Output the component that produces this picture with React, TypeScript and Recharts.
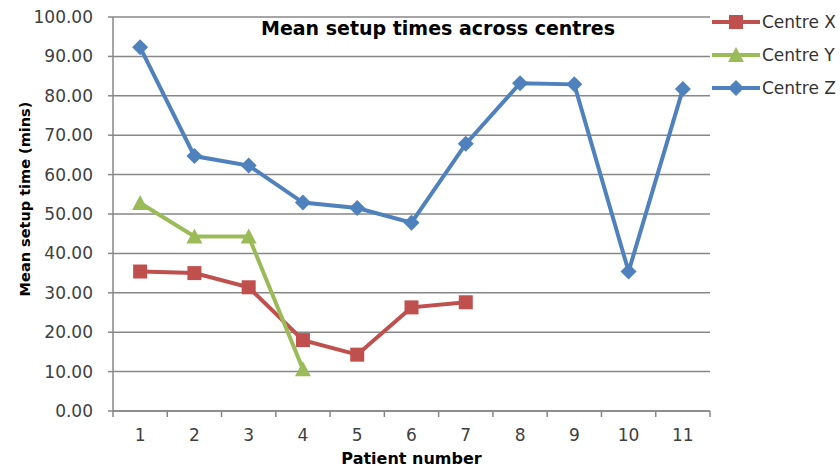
import React from 'react';
import { LineChart, Line, XAxis, YAxis, CartesianGrid } from 'recharts';

const patients = [1, 2, 3, 4, 5, 6, 7, 8, 9, 10, 11];
const centreX = [35.4, 35.0, 31.4, 18.0, 14.3, 26.3, 27.6, null, null, null, null];
const centreY = [52.8, 44.3, 44.3, 10.6, null, null, null, null, null, null, null];
const centreZ = [92.3, 64.7, 62.3, 52.9, 51.5, 47.8, 67.8, 83.2, 82.9, 35.4, 81.7];
const yTicks = [0, 10, 20, 30, 40, 50, 60, 70, 80, 90, 100];

const RED = '#C0504D';
const GREEN = '#9BBB59';
const BLUE = '#4F81BD';
const GRID = '#878787';
const FONT = '"DejaVu Sans", sans-serif';

const data = patients.map((p, i) => ({
  patient: p,
  x: centreX[i],
  y: centreY[i],
  z: centreZ[i],
}));

// boundaries between categories, for the little tick marks under the axis
const boundaries = [...patients.map((p) => p - 0.5), patients[patients.length - 1] + 0.5];

type Shape = 'square' | 'triangle' | 'diamond';

const Marker = ({ cx, cy, shape, color }: { cx: number; cy: number; shape: Shape; color: string }) => {
  if (shape === 'square') {
    return <rect x={cx - 7} y={cy - 7} width={14} height={14} fill={color} />;
  }
  if (shape === 'triangle') {
    return <polygon points={`${cx},${cy - 8} ${cx + 8},${cy + 7} ${cx - 8},${cy + 7}`} fill={color} />;
  }
  return <polygon points={`${cx},${cy - 8} ${cx + 8},${cy} ${cx},${cy + 8} ${cx - 8},${cy}`} fill={color} />;
};

const makeDot = (shape: Shape, color: string) => (props: any) => {
  const { cx, cy, value, index } = props;
  if (value === null || value === undefined || cx == null || cy == null) {
    return <g key={`e-${shape}-${index}`} />;
  }
  return <Marker key={`${shape}-${index}`} cx={cx} cy={cy} shape={shape} color={color} />;
};

const series = [
  { key: 'x', name: 'Centre X', color: RED, shape: 'square' as Shape },
  { key: 'y', name: 'Centre Y', color: GREEN, shape: 'triangle' as Shape },
  { key: 'z', name: 'Centre Z', color: BLUE, shape: 'diamond' as Shape },
];

const YLabel = ({ viewBox }: any) => {
  const cy = viewBox.y + viewBox.height / 2 - 15;
  const cx = 25;
  return (
    <text
      x={cx}
      y={cy}
      transform={`rotate(-90, ${cx}, ${cy})`}
      textAnchor="middle"
      dominantBaseline="central"
      fontFamily={FONT}
      fontWeight="bold"
      fontSize={14.5}
      fill="#000"
    >
      Mean setup time (mins)
    </text>
  );
};

export default function App() {
  return (
    <div style={{ position: 'absolute', left: 0, top: 0, width: 840, height: 467, background: '#fff' }}>
      <LineChart
        width={840}
        height={467}
        data={data}
        margin={{ top: 17, right: 130, left: 0, bottom: 0 }}
      >
        <CartesianGrid vertical={false} stroke={GRID} strokeWidth={1.5} />
        <XAxis
          xAxisId="grid"
          dataKey="patient"
          type="number"
          domain={[0.5, 11.5]}
          ticks={boundaries}
          tickFormatter={() => ''}
          tickSize={6}
          height={6}
          axisLine={{ stroke: GRID, strokeWidth: 1.5 }}
          tickLine={{ stroke: GRID, strokeWidth: 1.5 }}
        />
        <XAxis
          xAxisId="lab"
          dataKey="patient"
          type="number"
          domain={[0.5, 11.5]}
          ticks={patients}
          axisLine={false}
          tickLine={false}
          tickSize={0}
          tickMargin={12}
          height={50}
          tick={{ fill: '#404040', fontSize: 17, fontFamily: FONT }}
          label={{
            value: 'Patient number',
            position: 'insideBottom',
            offset: 3,
            style: { fontFamily: FONT, fontWeight: 'bold', fontSize: 16, fill: '#000' },
          }}
        />
        <YAxis
          domain={[0, 100]}
          ticks={yTicks}
          width={113}
          tickSize={5}
          tickMargin={15}
          tickFormatter={(v: number) => v.toFixed(2)}
          axisLine={{ stroke: GRID, strokeWidth: 1.5 }}
          tickLine={{ stroke: GRID, strokeWidth: 1.5 }}
          tick={{ fill: '#404040', fontSize: 17, fontFamily: FONT }}
          label={{ content: YLabel }}
        />
        {series.map((s) => (
          <Line
            key={s.key}
            xAxisId="lab"
            dataKey={s.key}
            name={s.name}
            stroke={s.color}
            strokeWidth={4}
            dot={makeDot(s.shape, s.color)}
            activeDot={false}
            isAnimationActive={false}
            connectNulls={false}
          />
        ))}
      </LineChart>

      <div
        style={{
          position: 'absolute',
          left: 238,
          top: 17,
          width: 400,
          textAlign: 'center',
          fontFamily: FONT,
          fontWeight: 'bold',
          fontSize: 19,
          color: '#000',
        }}
      >
        Mean setup times across centres
      </div>

      {series.map((s, i) => (
        <div
          key={s.key}
          style={{
            position: 'absolute',
            left: 712,
            top: 10 + i * 33,
            height: 24,
            display: 'flex',
            alignItems: 'center',
            fontFamily: FONT,
            fontSize: 17,
            color: '#333',
          }}
        >
          <svg width={48} height={20}>
            <line x1={0} y1={10} x2={48} y2={10} stroke={s.color} strokeWidth={4} />
            <Marker cx={24} cy={10} shape={s.shape} color={s.color} />
          </svg>
          <span style={{ marginLeft: 2 }}>{s.name}</span>
        </div>
      ))}
    </div>
  );
}
